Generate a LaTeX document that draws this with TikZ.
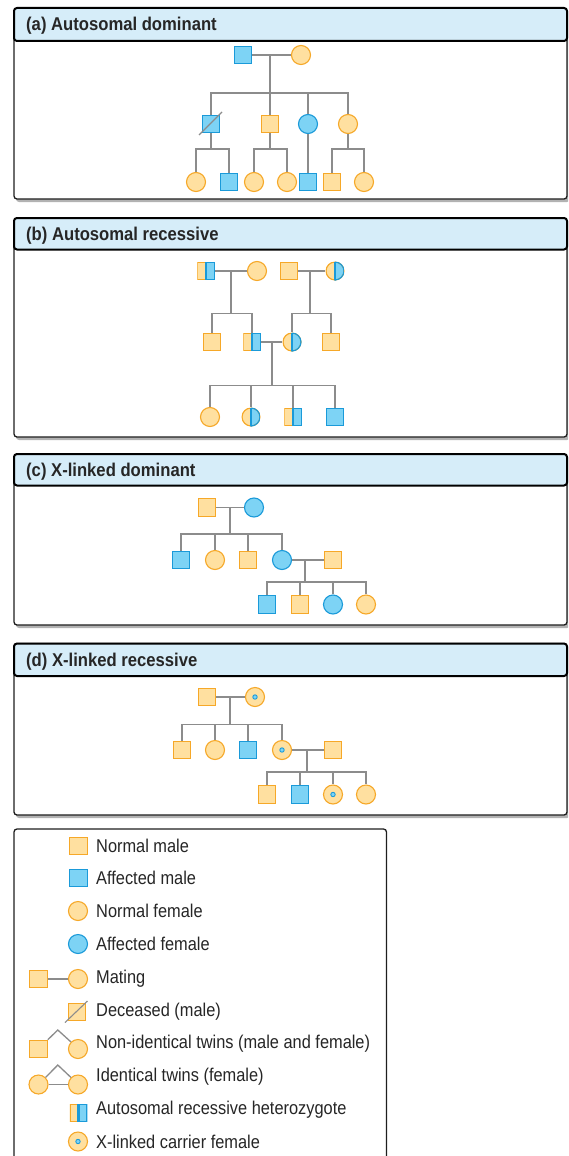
\documentclass[tikz,border=0pt]{standalone}
\usepackage{fontspec}
\setmainfont{Liberation Sans}
\newfontfamily\legfont[FakeStretch=0.885]{Liberation Sans}
\newfontfamily\headfont[FakeStretch=0.9]{Liberation Sans}
\definecolor{nfill}{RGB}{255,224,160}
\definecolor{nline}{RGB}{246,168,40}
\definecolor{afill}{RGB}{125,211,245}
\definecolor{aline}{RGB}{26,154,217}
\definecolor{headfill}{RGB}{214,237,249}
\definecolor{linkgray}{RGB}{140,140,140}
\definecolor{boxline}{RGB}{30,30,30}
\tikzset{
  ind/.style={inner sep=0pt,line width=1.1pt},
  male/.style={ind,rectangle,minimum size=17.5pt},
  female/.style={ind,circle,minimum size=19pt},
  normal/.style={draw=nline,fill=nfill},
  affected/.style={draw=aline,fill=afill},
  hetmale/.style={male,path picture={
    \fill[nfill] (path picture bounding box.south west) rectangle (path picture bounding box.north);
    \fill[afill] (path picture bounding box.south) rectangle (path picture bounding box.north east);
    \draw[nline,line width=2.2pt] (path picture bounding box.south west) rectangle (path picture bounding box.north);
    \draw[aline,line width=2.2pt] (path picture bounding box.south) rectangle (path picture bounding box.north east);}},
  hetfemale/.style={female,path picture={
    \fill[nfill] (path picture bounding box.south west) rectangle (path picture bounding box.north);
    \fill[afill] (path picture bounding box.south) rectangle (path picture bounding box.north east);
    \draw[nline,line width=2.2pt] (path picture bounding box.center) circle (9.5pt);
    \begin{scope}
      \clip (path picture bounding box.south) rectangle (path picture bounding box.north east);
      \draw[aline,line width=2.2pt] (path picture bounding box.center) circle (9.5pt);
    \end{scope}
    \draw[aline,line width=1.1pt] (path picture bounding box.south) -- (path picture bounding box.north);}},
  carrier/.style={female,normal,path picture={
    \draw[aline,fill=afill,line width=0.9pt] (path picture bounding box.center) circle (2.2pt);}},
  link/.style={draw=linkgray,line width=1.3pt},
  dead/.style={draw=linkgray,line width=1.1pt},
  title/.style={anchor=west,inner sep=0pt,text=black!85,font=\headfont\bfseries\fontsize{18.5}{20}\selectfont},
  legtext/.style={anchor=west,inner sep=0pt,text=black!85,font=\legfont\fontsize{18.5}{20}\selectfont},
  panelbox/.style={draw=boxline,fill=white,line width=1.3pt,rounded corners=3pt},
  headbox/.style={draw=black,fill=headfill,line width=2pt,rounded corners=3pt},
  boxshadow/.style={fill=black!30,rounded corners=3pt}
}
\begin{document}
\begin{tikzpicture}[x=1pt,y=-1pt]
\useasboundingbox (0,0) rectangle (568,1156);
\clip (0,0) rectangle (568,1156);
% panel frames
\foreach \n/\t/\h/\b/\txt in {a/8/41/199/{(a) Autosomal dominant},
    b/218/249.5/437/{(b) Autosomal recessive},
    c/454/485.5/625/{(c) X-linked dominant},
    d/643.5/676/815/{(d) X-linked recessive}}{
  \fill[boxshadow] (16,\t+3) rectangle (570,\b+3);
  \draw[panelbox] (14,\t) rectangle (567,\b);
  \draw[headbox] (14,\t) rectangle (567,\h);
  \node[title] (title\n) at (26,{(\t+\h)/2+1.5}) {\txt};
}

% (a) autosomal dominant
\node[male,affected] (a1) at (243,55) {};
\node[female,normal] (a2) at (301,55) {};
\node[male,affected] (a3) at (211,124) {};
\node[male,normal] (a4) at (270,124) {};
\node[female,affected] (a5) at (308,124) {};
\node[female,normal] (a6) at (348,124) {};
\node[female,normal] (a7) at (196,182) {};
\node[male,affected] (a8) at (229,182) {};
\node[female,normal] (a9) at (254,182) {};
\node[female,normal] (a10) at (287,182) {};
\node[male,affected] (a11) at (308,182) {};
\node[male,normal] (a12) at (332,182) {};
\node[female,normal] (a13) at (364,182) {};
\coordinate (aj1) at (270,55);
\coordinate (ab1) at (270,93);
\coordinate (ab2) at (211,149);
\coordinate (ab3) at (270,149);
\coordinate (ab4) at (348,149);
\draw[link] (a1) -- (a2);
\draw[link] (aj1) -- (a4);
\draw[link] (a3) |- (ab1) -| (a6);
\draw[link] (ab1 -| a5) -- (a5);
\draw[link] (a3) -- (ab2);
\draw[link] (a7) |- (ab2) -| (a8);
\draw[link] (a4) -- (ab3);
\draw[link] (a9) |- (ab3) -| (a10);
\draw[link] (a5) -- (a11);
\draw[link] (a6) -- (ab4);
\draw[link] (a12) |- (ab4) -| (a13);
\draw[dead] ([shift={(-12,11)}]a3.center) -- ([shift={(11,-12)}]a3.center);

% (b) autosomal recessive
\node[hetmale] (b1) at (206,271) {};
\node[female,normal] (b2) at (257,271) {};
\node[male,normal] (b3) at (289,271) {};
\node[hetfemale] (b4) at (335,271) {};
\node[male,normal] (b5) at (212,342) {};
\node[hetmale] (b6) at (252,342) {};
\node[hetfemale] (b7) at (292,342) {};
\node[male,normal] (b8) at (331,342) {};
\node[female,normal] (b9) at (210,417) {};
\node[hetfemale] (b10) at (251,417) {};
\node[hetmale] (b11) at (293,417) {};
\node[male,affected] (b12) at (335,417) {};
\coordinate (bj1) at (231,271);
\coordinate (bj2) at (310,271);
\coordinate (bj3) at (272,342);
\coordinate (bb1) at (231,313.5);
\coordinate (bb2) at (310,313.5);
\coordinate (bb3) at (272,385.5);
\draw[link] (b1) -- (b2);
\draw[link] (b3) -- (b4);
\draw[link] (bj1) -- (bb1);
\draw[link] (bj2) -- (bb2);
\draw[link] (b5) |- (bb1) -| (b6);
\draw[link] (b7) |- (bb2) -| (b8);
\draw[link] (b6) -- (b7);
\draw[link] (bj3) -- (bb3);
\draw[link] (b9) |- (bb3) -| (b12);
\draw[link] (bb3 -| b10) -- (b10);
\draw[link] (bb3 -| b11) -- (b11);

% (c) X-linked dominant
\node[male,normal] (c1) at (207,507.5) {};
\node[female,affected] (c2) at (254,507.5) {};
\node[male,affected] (c3) at (181,560) {};
\node[female,normal] (c4) at (215,560) {};
\node[male,normal] (c5) at (248,560) {};
\node[female,affected] (c6) at (282,560) {};
\node[male,normal] (c7) at (333,560) {};
\node[male,affected] (c8) at (267,604.5) {};
\node[male,normal] (c9) at (300,604.5) {};
\node[female,affected] (c10) at (333,604.5) {};
\node[female,normal] (c11) at (366,604.5) {};
\coordinate (cj1) at (230,507.5);
\coordinate (cb1) at (230,534);
\coordinate (cj2) at (305,560);
\coordinate (cb2) at (305,582);
\draw[link] (c1) -- (c2);
\draw[link] (cj1) -- (cb1);
\draw[link] (c3) |- (cb1) -| (c6);
\draw[link] (cb1 -| c4) -- (c4);
\draw[link] (cb1 -| c5) -- (c5);
\draw[link] (c6) -- (c7);
\draw[link] (cj2) -- (cb2);
\draw[link] (c8) |- (cb2) -| (c11);
\draw[link] (cb2 -| c9) -- (c9);
\draw[link] (cb2 -| c10) -- (c10);

% (d) X-linked recessive
\node[male,normal] (d1) at (207,697) {};
\node[carrier] (d2) at (255,697) {};
\node[male,normal] (d3) at (182,750) {};
\node[female,normal] (d4) at (215,750) {};
\node[male,affected] (d5) at (248,750) {};
\node[carrier] (d6) at (282,750) {};
\node[male,normal] (d7) at (333,750) {};
\node[male,normal] (d8) at (267,794.5) {};
\node[male,affected] (d9) at (300,794.5) {};
\node[carrier] (d10) at (333,794.5) {};
\node[female,normal] (d11) at (366,794.5) {};
\coordinate (dj1) at (230,697);
\coordinate (db1) at (230,724.5);
\coordinate (dj2) at (307,750);
\coordinate (db2) at (307,772);
\draw[link] (d1) -- (d2);
\draw[link] (dj1) -- (db1);
\draw[link] (d3) |- (db1) -| (d6);
\draw[link] (db1 -| d4) -- (d4);
\draw[link] (db1 -| d5) -- (d5);
\draw[link] (d6) -- (d7);
\draw[link] (dj2) -- (db2);
\draw[link] (d8) |- (db2) -| (d11);
\draw[link] (db2 -| d9) -- (d9);
\draw[link] (db2 -| d10) -- (d10);

% key
\draw[panelbox] (14,829) rectangle (386.5,1175);
\node[male,normal] (l1) at (78.5,846) {};
\node[male,affected] (l2) at (78.5,878) {};
\node[female,normal] (l3) at (78,911) {};
\node[female,affected] (l4) at (78,944) {};
\node[male,normal] (l5a) at (38.5,979) {};
\node[female,normal] (l5b) at (78,979) {};
\node[male,normal] (l6) at (77,1012) {};
\node[male,normal] (l7a) at (38.5,1049) {};
\node[female,normal] (l7b) at (78,1049) {};
\node[female,normal] (l8a) at (38.5,1084.5) {};
\node[female,normal] (l8b) at (78,1084.5) {};
\node[hetmale] (l9) at (78.5,1113) {};
\node[carrier] (l10) at (78,1141.5) {};
\coordinate (l7top) at (57.8,1030);
\coordinate (l8top) at (57.8,1065);
\draw[link] (l5a) -- (l5b);
\draw[dead] ([shift={(-12,10.5)}]l6.center) -- ([shift={(10.5,-11)}]l6.center);
\draw[link] (l7a.north east) -- (l7top) -- (l7b.north west);
\draw[link] (l8a.north east) -- (l8top) -- (l8b.north west);
\draw[link] (l8a) -- (l8b);
\node[legtext] (k1) at (96,846) {Normal male};
\node[legtext] (k2) at (96,878) {Affected male};
\node[legtext] (k3) at (96,911) {Normal female};
\node[legtext] (k4) at (96,944) {Affected female};
\node[legtext] (k5) at (96,979) {Mating};
\node[legtext] (k6) at (96,1012) {Deceased (male)};
\node[legtext] (k7) at (96,1044) {Non-identical twins (male and female)};
\node[legtext] (k8) at (96,1077) {Identical twins (female)};
\node[legtext] (k9) at (96,1110) {Autosomal recessive heterozygote};
\node[legtext] (k10) at (96,1142) {X-linked carrier female};
\end{tikzpicture}
\end{document}
